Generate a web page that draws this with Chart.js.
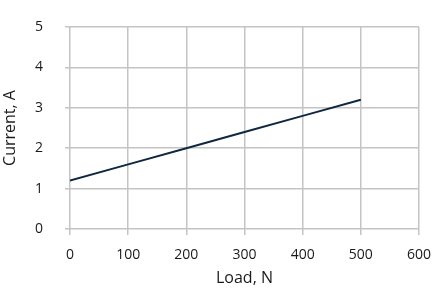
<!DOCTYPE html>
<html lang="en">
  <head>
    <meta charset="UTF-8" />
    <script src="https://cdn.jsdelivr.net/npm/chart.js@4/dist/chart.umd.min.js"></script>
    <title>Current vs Load</title>
    <style>
      html, body { margin: 0; padding: 0; background: #fff; }
      #wrap { width: 438px; height: 300px; }
    </style>
  </head>
  <body>
    <div id="wrap"><canvas id="chart" width="438" height="300"></canvas></div>
    <script>
      const loads = [0, 100, 200, 300, 400, 500];
      const currents = [1.2, 1.6, 2.0, 2.4, 2.8, 3.2];
      const xTitle = "Load, N";
      const yTitle = "Current, A";

      const font = "'Open Sans', 'Noto Sans', sans-serif";
      const gridColor = "#c4c4c4";

      new Chart(document.getElementById("chart"), {
        type: "line",
        data: {
          datasets: [
            {
              data: loads.map((x, i) => ({ x: x, y: currents[i] })),
              borderColor: "#0f2740",
              borderWidth: 2,
              pointRadius: 0,
              tension: 0,
            },
          ],
        },
        options: {
          responsive: false,
          animation: false,
          layout: { padding: { top: 27, right: 19, left: 0, bottom: 0 } },
          plugins: { legend: { display: false }, tooltip: { enabled: false } },
          scales: {
            x: {
              type: "linear",
              min: 0,
              max: 600,
              ticks: { stepSize: 100, color: "#1a1a1a", padding: 12, font: { family: font, size: 14 } },
              grid: { color: gridColor, lineWidth: 1.5, tickLength: 6 },
              border: { display: false },
              title: { display: true, text: xTitle, color: "#1a1a1a", font: { family: font, size: 16 }, padding: { top: 0, bottom: 12 } },
              afterFit: (s) => {
                s.height = 71;
                s.paddingLeft = 0;
                s.paddingRight = 0;
              },
            },
            y: {
              min: 0,
              max: 5,
              ticks: { stepSize: 1, color: "#1a1a1a", padding: 22, font: { family: font, size: 14 } },
              grid: { color: gridColor, lineWidth: 1.5, tickLength: 5 },
              border: { display: false },
              title: { display: true, text: yTitle, color: "#1a1a1a", font: { family: font, size: 16 }, padding: 1 },
              afterFit: (s) => {
                s.width = 70;
                s.paddingTop = 0;
                s.paddingBottom = 0;
              },
            },
          },
        },
      });
    </script>
  </body>
</html>
